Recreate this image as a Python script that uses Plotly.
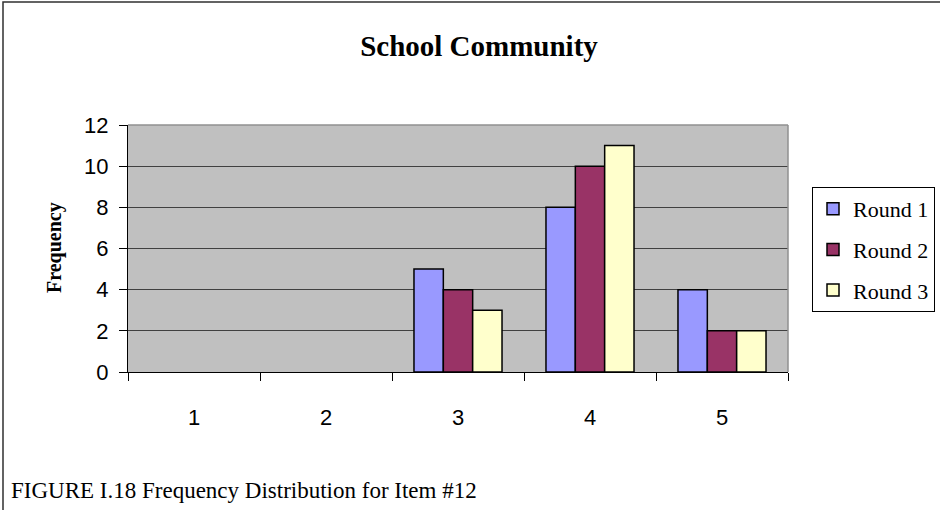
import plotly.graph_objects as go

categories = ["1", "2", "3", "4", "5"]
round1 = [0, 0, 5, 8, 4]
round2 = [0, 0, 4, 10, 2]
round3 = [0, 0, 3, 11, 2]
series_names = ["Round 1", "Round 2", "Round 3"]
colors = ["#9999FF", "#993366", "#FFFFCC"]
y_ticks = [0, 2, 4, 6, 8, 10, 12]

W, H = 940, 510
L, R, T, B = 128, 788, 125, 372
pw, ph = R - L, B - T

def px(x):
    return (x - L) / pw

def py(y):
    return (B - y) / ph

fig = go.Figure()
for name, vals, col in zip(series_names, [round1, round2, round3], colors):
    fig.add_trace(go.Bar(
        x=categories, y=[v if v else None for v in vals], name=name,
        legendgroup=name,
        marker=dict(color=col, line=dict(color="black", width=1.5)),
    ))

fig.update_layout(
    width=W, height=H,
    margin=dict(l=L, r=W - R, t=T, b=H - B, autoexpand=False),
    paper_bgcolor="white",
    plot_bgcolor="#C0C0C0",
    barmode="group",
    bargap=0.333,
    bargroupgap=0,
    showlegend=True,
    title=dict(text="<b>School Community</b>", x=479 / W, xanchor="center",
               y=1 - 46 / H, yanchor="middle",
               font=dict(family="Liberation Serif", size=29, color="black")),
    legend=dict(x=px(812), y=py(187), xanchor="left", yanchor="top",
                bgcolor="white", bordercolor="black", borderwidth=1,
                font=dict(family="Liberation Serif", size=22, color="black"),
                tracegroupgap=9, itemclick=False, itemwidth=30),
    xaxis=dict(type="category", tickson="boundaries", ticks="outside",
               ticklen=8, tickcolor="black", showline=True, linecolor="black",
               linewidth=1, showgrid=False, ticklabelstandoff=26,
               tickfont=dict(family="Liberation Sans", size=22, color="black")),
    yaxis=dict(range=[0, 12], tickvals=y_ticks, ticks="outside", ticklen=8,
               tickcolor="black", showline=True, linecolor="black", linewidth=1,
               showgrid=True, gridcolor="#404040", gridwidth=1, zeroline=False,
               ticklabelstandoff=6,
               tickfont=dict(family="Liberation Sans", size=22, color="black")),
    shapes=[
        dict(type="line", xref="paper", yref="paper", x0=0, x1=1, y0=1, y1=1,
             line=dict(color="#909090", width=1.5)),
        dict(type="line", xref="paper", yref="paper", x0=1, x1=1, y0=0, y1=1,
             line=dict(color="#909090", width=1.5)),
        dict(type="rect", xref="paper", yref="paper", x0=px(3), x1=px(960),
             y0=py(530), y1=py(2), line=dict(color="#303030", width=1.5),
             fillcolor="rgba(0,0,0,0)"),
    ],
    annotations=[
        dict(text="<b>Frequency</b>", xref="paper", yref="paper", x=px(54),
             y=py(248), textangle=-90, showarrow=False, xanchor="center",
             yanchor="middle",
             font=dict(family="Liberation Serif", size=20, color="black")),
        dict(text="FIGURE I.18 Frequency Distribution for Item #12", xref="paper",
             yref="paper", x=px(9), y=py(490), xanchor="left", yanchor="middle",
             showarrow=False,
             font=dict(family="Liberation Serif", size=23, color="black")),
    ],
)

fig.write_html("out.html")
